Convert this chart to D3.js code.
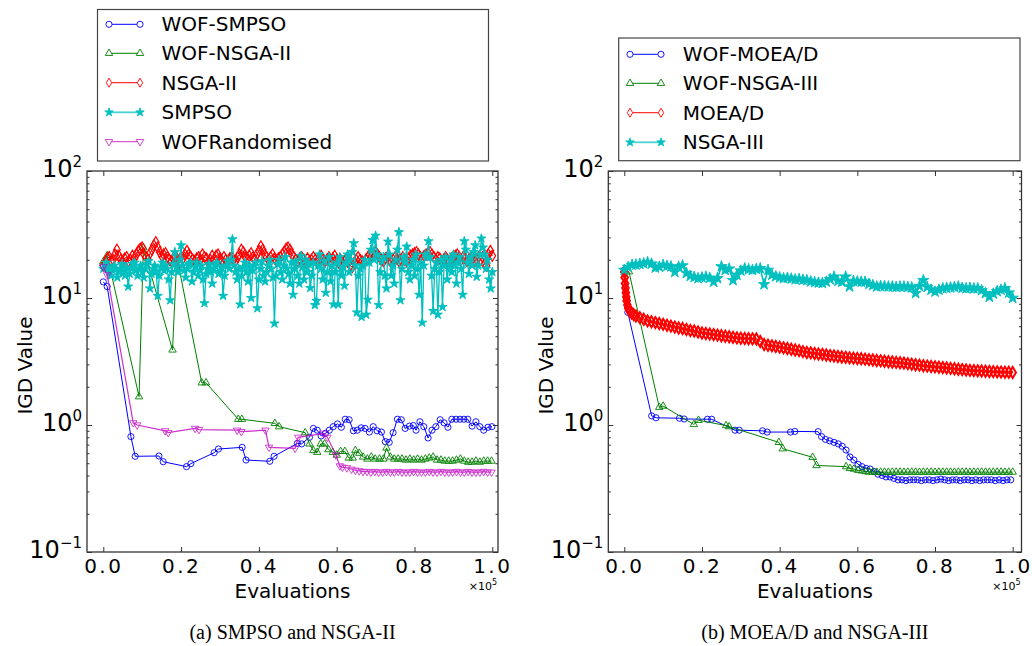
<!DOCTYPE html>
<html>
<head>
<meta charset="utf-8">
<script src="https://cdn.jsdelivr.net/npm/d3@7"></script>
<style>
body { margin: 0; background: #fff; }
svg text { font-family: "DejaVu Sans", sans-serif; fill: #000; }
.caption { font-family: "Liberation Serif", serif; font-size: 20px; }
</style>
</head>
<body>
<svg id="chart" width="1032" height="646"></svg>
<script>
// evaluations are kept in thousands, the axis shows them as x10^5

// (a) SMPSO and NSGA-II
var aWofSmpsoEvals = [0, 1, 7.1, 8.2, 14.3, 15.4, 21.4, 22.5, 28.5, 29.6, 35.7, 36.7, 42.8, 43.9, 49.9, 51,
    53, 54, 55, 56, 57.1, 58.1, 59.1, 60.2, 61.2, 62.2, 63.2, 64.3, 65.3, 66.3, 67.3, 68.4, 69.4, 70.4,
    71.5, 72.5, 73.5, 74.5, 75.6, 76.6, 77.6, 78.7, 79.7, 80.4, 81.4, 82.4, 83.5, 84.5, 85.5, 86.6, 87.6,
    88.6, 89.6, 90.7, 91.7, 92.7, 93.7, 94.8, 95.8, 96.8, 97.8, 98.9, 99.9];
var aWofSmpsoIgd = [13.4, 12.3, 0.81, 0.567, 0.57, 0.514, 0.47, 0.496, 0.605, 0.647, 0.667, 0.53, 0.518, 0.567, 0.717, 0.71,
    0.80, 0.94, 0.91, 0.82, 0.86, 0.91, 0.97, 1.02, 0.96, 1.11, 1.10, 0.90, 0.91, 0.95, 0.94, 0.88, 0.97, 0.90,
    0.88, 0.74, 0.73, 0.87, 1.11, 1.10, 0.94, 0.98, 0.99, 0.91, 1.06, 0.97, 0.79, 0.91, 0.97, 1.10, 1.04,
    0.96, 1.11, 1.11, 1.11, 1.11, 1.11, 0.98, 1.06, 0.97, 0.91, 0.96, 0.97];

var aWofNsga2Evals = [0, 1, 9.2, 10.3, 17.8, 18.9, 25.3, 26.4, 34.7, 35.6, 44.1, 45.2, 51.9, 53, 54, 55, 55.9,
    56.9, 57.9, 59, 60, 61, 62.1, 63.1, 64.1, 64.8, 65.8, 66.8, 67.9, 68.9, 69.9, 71, 72, 72.8, 73.8,
    74.8, 75.8, 76.8, 77.8, 78.8, 79.8, 80.8, 81.8, 82.8, 83.8, 84.8, 85.8, 86.8, 87.8, 88.8, 89.8,
    90.8, 91.8, 92.8, 93.8, 94.8, 95.8, 96.8, 97.8, 98.8, 99.8];
var aWofNsga2Igd = [19.3, 21.6, 1.67, 25, 3.9, 21.2, 2.15, 2.15, 1.11, 1.11, 1.03, 0.97, 0.87, 0.71, 0.63, 0.61, 0.71,
    0.71, 0.64, 0.61, 0.58, 0.62, 0.62, 0.55, 0.55, 0.63, 0.60, 0.56, 0.54, 0.56, 0.54, 0.54, 0.54, 0.66, 0.56,
    0.54, 0.54, 0.54, 0.53, 0.54, 0.53, 0.54, 0.53, 0.54, 0.55, 0.56, 0.53, 0.53, 0.52, 0.52, 0.52,
    0.53, 0.54, 0.52, 0.51, 0.51, 0.52, 0.51, 0.52, 0.52, 0.52];

// NSGA-II and SMPSO are logged on a regular grid of evaluations
var aNsga2Igd = [
    18, 19, 20.5, 21, 19.5, 20, 22, 24, 21.5, 20,
    19, 20.5, 21, 19.5, 20, 21.5, 20.5, 22, 23.5, 24.5,
    25, 22, 21, 20, 22.5, 24, 26, 27.5, 25, 23,
    21.5, 22, 22.5, 21, 20, 19.5, 20.5, 21, 20, 19,
    21, 20.5, 22, 23.5, 22, 21, 20, 19.5, 20.5, 21,
    20, 22, 21, 20.5, 19, 20, 21.5, 20, 21.5, 22,
    20.5, 19.5, 21, 20, 19, 20.5, 21, 20, 19.5, 21,
    22, 24, 23, 21, 20, 21.5, 22.5, 21, 20, 22,
    23.5, 25.5, 24, 22, 21, 20, 21, 22, 20.5, 19.5,
    20.5, 21, 22, 23, 24.5, 25, 24, 22, 21, 20,
    19.5, 20.5, 21, 20, 19, 20.5, 19.5, 20, 21, 20,
    19, 20.5, 21.5, 20, 19.5, 20, 21, 19, 20.5, 21.5,
    20, 19, 20, 18.5, 19.5, 20.5, 19, 18, 17.5, 19,
    20, 21, 20, 19.5, 19, 20, 21, 22, 21.5, 22.5,
    23, 22, 21, 20, 19.5, 20.5, 21, 20, 19, 20,
    21, 20.5, 19.5, 20, 21, 20, 19.5, 20.5, 21.5, 22,
    22.5, 23, 22, 21, 20.5, 21.5, 22, 22.5, 23, 22,
    21, 20, 21, 20.5, 19.5, 20, 21, 20, 19.5, 20.5,
    21, 21.5, 22, 21, 20, 21, 20.5, 19.5, 20, 21,
    20.5, 19.5, 20, 21, 20, 21, 18.5, 18, 22, 23.5,
    21.5];
var aNsga2Evals = d3.range(aNsga2Igd.length).map(function(i) { return i * 100 / (aNsga2Igd.length - 1); });

var aSmpsoIgd = [
    17, 18, 19, 17.5, 16, 15, 16.5, 18, 17, 14.5,
    16, 17, 18.5, 16, 15, 17.5, 12.3, 15.5, 17, 18.5,
    19, 16.5, 15, 17, 18, 16, 14.5, 17, 18.5, 19.5,
    11.9, 15.5, 17, 18, 16, 10.4, 15, 17.5, 19, 16.5,
    18, 17, 14, 9.6, 16, 18.5, 23, 17.5, 16, 20,
    26, 18, 16.5, 14.5, 17, 18.5, 19, 13.5, 16, 17.5,
    19, 15, 16.5, 18, 14, 9.1, 15.5, 17, 18.5, 16,
    13, 17, 18, 19, 15.5, 16, 17.5, 10.4, 15, 18,
    19.5, 17, 20, 29, 18, 16, 14, 17, 8.9, 15,
    17.5, 19, 16, 13.5, 18, 10, 16.5, 18, 19, 8.3,
    14, 17, 19.5, 15, 13.5, 16, 18, 20, 17, 14.5,
    6.3, 15, 18.5, 20, 16, 14, 18, 21, 17, 15.5,
    13, 19, 10.6, 17, 19.5, 15, 13, 21.5, 17.5, 14,
    20, 16, 18.5, 12, 15, 19, 8.8, 9.5, 18, 22,
    17, 14, 19.5, 11, 16, 21, 13.5, 18, 8.9, 16,
    19, 8.9, 21, 15, 17.5, 12.5, 19, 22, 16, 20,
    23, 27, 18, 7.7, 15, 17, 7.1, 18, 20, 7.4,
    9.7, 19, 24, 28.6, 20, 31, 22, 8.8, 16, 19.5,
    21, 15, 11.9, 27.8, 22, 15, 18, 13, 20, 24,
    33, 9.6, 17, 21, 19, 25.4, 16, 14, 18, 20,
    15, 22, 17, 10.6, 19, 6.4, 18, 22, 21, 28,
    21, 15, 7.9, 17, 19, 7.4, 16, 20, 8.5, 18,
    21, 14, 17.5, 20, 16, 22, 18, 13, 19, 21,
    17, 10.6, 28, 24, 19, 15.5, 21, 18, 23, 26,
    14.7, 18, 22, 29.4, 25, 22, 17, 20, 14, 11.9,
    16];
var aSmpsoEvals = d3.range(aSmpsoIgd.length).map(function(i) { return i * 100 / (aSmpsoIgd.length - 1); });

var aWofRandEvals = [0, 1, 7.7, 8.7, 15.9, 16.7, 23.6, 24.6, 34.4, 35.5, 41.7, 42.6, 49.3, 50.1, 56.6, 57.6,
    59.8, 60.8, 61.5, 62.6, 63.8, 64.8, 65.8, 66.8, 67.8, 68.8, 69.8, 70.8, 71.8, 72.8, 73.8, 74.8, 75.8,
    76.8, 77.8, 78.8, 79.8, 80.8, 81.8, 82.8, 83.8, 84.8, 85.8, 86.8, 87.8, 88.8, 89.8, 90.8, 91.8, 92.8,
    93.8, 94.8, 95.8, 96.8, 97.8, 98.8, 99.8];
var aWofRandIgd = [17.6, 15.2, 1.04, 1.0, 0.90, 0.87, 0.94, 0.92, 0.91, 0.886, 0.91, 0.667, 0.655, 0.80, 0.86, 0.80,
    0.58, 0.476, 0.465, 0.46, 0.448, 0.44, 0.435, 0.43, 0.43, 0.425, 0.43, 0.425, 0.425, 0.43, 0.425,
    0.425, 0.43, 0.425, 0.425, 0.425, 0.43, 0.425, 0.425, 0.425, 0.43, 0.425, 0.425, 0.43, 0.425, 0.425,
    0.425, 0.43, 0.425, 0.425, 0.43, 0.425, 0.425, 0.425, 0.43, 0.425, 0.425];

// (b) MOEA/D and NSGA-III
var bWofMoeadEvals = [0, 0.9, 7.05, 8.16, 14.2, 15.4, 21.4, 22.5, 28.5, 29.6, 35.6, 36.8, 42.8, 43.9, 49.9,
    50.8, 51.8, 52.9, 54, 55.1, 56.1, 57.1, 58.1, 59.1, 60.2, 61.2, 62.3, 63.3, 64.3, 65.3, 66.4, 67.4,
    68.4, 69.4, 70.5, 71.5, 72.5, 73.5, 74.5, 75.5, 76.5, 77.5, 78.5, 79.5, 80.5, 81.5, 82.5, 83.5, 84.5,
    85.5, 86.5, 87.5, 88.5, 89.5, 90.5, 91.5, 92.5, 93.5, 94.5, 95.5, 96.5, 97.5, 98.5, 99.5];
var bWofMoeadIgd = [16.6, 7.7, 1.18, 1.14, 1.13, 1.115, 1.11, 1.11, 0.91, 0.91, 0.90, 0.88, 0.88, 0.89, 0.886,
    0.81, 0.77, 0.75, 0.73, 0.71, 0.68, 0.635, 0.56, 0.53, 0.49, 0.47, 0.455, 0.45, 0.43, 0.41, 0.40, 0.39,
    0.39, 0.38, 0.37, 0.37, 0.365, 0.37, 0.37, 0.37, 0.365, 0.37, 0.37, 0.365, 0.37, 0.375, 0.37, 0.365, 0.37,
    0.37, 0.365, 0.37, 0.37, 0.365, 0.37, 0.365, 0.37, 0.37, 0.37, 0.365, 0.37, 0.365, 0.37, 0.37];

var bWofNsga3Evals = [0, 1.2, 9, 10, 17.9, 19.1, 26.2, 27, 39.8, 40.8, 48.5, 49.5, 57.1, 58.1, 59.1, 60.2, 61.2,
    62.2, 63, 64, 65, 66, 67, 68, 69, 70, 71, 72, 73, 74, 75, 76, 77, 78, 79, 80, 81, 82, 83, 84, 85, 86,
    87, 88, 89, 90, 91, 92, 93, 94, 95, 96, 97, 98, 99, 100];
var bWofNsga3Igd = [16.5, 16.1, 1.38, 1.41, 1.01, 1.09, 0.99, 0.97, 0.73, 0.65, 0.557, 0.48, 0.47, 0.455, 0.45, 0.44, 0.435,
    0.43, 0.426, 0.426, 0.425, 0.426, 0.426, 0.425, 0.426, 0.426, 0.426, 0.425, 0.426, 0.426, 0.426, 0.425,
    0.426, 0.426, 0.426, 0.425, 0.426, 0.426, 0.426, 0.426, 0.425, 0.426, 0.426, 0.426, 0.425, 0.426, 0.426,
    0.426, 0.426, 0.425, 0.426, 0.426, 0.426, 0.425, 0.426, 0.426];

var bMoeadEvals = [0, 0.1, 0.2, 0.3, 0.4, 0.5, 0.6, 0.8, 1, 1.4, 1.9, 2.4,
    3, 4, 5, 6, 7, 8, 9, 10, 11, 12, 13, 14, 15, 16, 17, 18, 19, 20, 21, 22, 23, 24, 25, 26, 27, 28, 29,
    30, 31, 32, 33, 34, 35, 36, 37, 38, 39, 40, 41, 42, 43, 44, 45, 46, 47, 48, 49, 50, 51, 52, 53, 54, 55,
    56, 57, 58, 59, 60, 61, 62, 63, 64, 65, 66, 67, 68, 69, 70, 71, 72, 73, 74, 75, 76, 77, 78, 79, 80, 81,
    82, 83, 84, 85, 86, 87, 88, 89, 90, 91, 92, 93, 94, 95, 96, 97, 98, 99, 100];
var bMoeadIgd = [16, 14.5, 13, 12, 11, 10.2, 9.5, 8.8, 8.3, 7.9, 7.6, 7.4,
    7.2, 7.0, 6.8, 6.6, 6.5, 6.4, 6.3, 6.2, 6.1, 6.0, 5.9, 5.8, 5.75, 5.65, 5.55, 5.5, 5.4, 5.3, 5.25, 5.2,
    5.15, 5.1, 5.05, 5.0, 4.95, 4.9, 4.85, 4.82, 4.8, 4.78, 4.77, 4.75, 4.55, 4.3, 4.25, 4.2, 4.15, 4.1,
    4.05, 4.0, 3.95, 3.9, 3.85, 3.78, 3.72, 3.7, 3.66, 3.62, 3.6, 3.56, 3.52, 3.49, 3.46, 3.43, 3.41, 3.38,
    3.36, 3.34, 3.32, 3.3, 3.27, 3.25, 3.22, 3.2, 3.18, 3.15, 3.13, 3.11, 3.09, 3.07, 3.04, 3.01, 2.98, 2.96,
    2.93, 2.91, 2.89, 2.87, 2.85, 2.83, 2.81, 2.79, 2.77, 2.75, 2.73, 2.71, 2.69, 2.68, 2.67, 2.66, 2.65,
    2.64, 2.63, 2.62, 2.61, 2.6, 2.6, 2.59];

var bNsga3Igd = [
    16.6, 17.5, 18.2, 18.3, 18.5, 18.7, 19.1, 18.6, 17.3, 17.6,
    18.2, 17.9, 17.7, 16.0, 17.6, 18.0, 15.7, 14.9, 14.6, 14.3,
    14.5, 14.7, 14.4, 13.4, 14.3, 17.7, 16.6, 17.0, 13.8, 15.2,
    16.4, 17.1, 16.8, 16.6, 16.9, 17.1, 12.8, 16.6, 15.2, 14.8,
    14.5, 14.3, 14.4, 14.2, 14.0, 14.1, 13.9, 13.8, 13.5, 13.3,
    13.2, 13.1, 13.4, 14.0, 14.7, 13.6, 13.4, 14.7, 12.3, 13.6,
    13.5, 13.4, 13.4, 12.9, 12.6, 12.3, 12.4, 12.4, 12.3, 12.3,
    12.2, 12.3, 12.3, 12.2, 12.1, 10.9, 12.4, 13.8, 12.2, 11.6,
    11.2, 11.6, 11.9, 12.0, 12.1, 12.2, 12.3, 12.0, 11.9, 12.0,
    11.9, 11.9, 11.5, 10.9, 10.2, 10.8, 11.3, 11.6, 11.9, 11.0,
    10.0];
var bNsga3Evals = d3.range(bNsga3Igd.length);

var xTicks = [0, 20, 40, 60, 80, 100];
var yMajor = [0.1, 1, 10, 100];
var yExponents = ["\u22121", "0", "1", "2"];
var yMinor = [0.2, 0.3, 0.4, 0.5, 0.6, 0.7, 0.8, 0.9, 2, 3, 4, 5, 6, 7, 8, 9, 20, 30, 40, 50, 60, 70, 80, 90];

// thin diamond marker like matplotlib "d"
var thinDiamond = {
    draw: function(context, size) {
        var h = size / 2, w = size * 0.3;
        context.moveTo(0, -h);
        context.lineTo(w, 0);
        context.lineTo(0, h);
        context.lineTo(-w, 0);
        context.closePath();
    }
};

var markerPaths = {
    circle: d3.symbol().type(d3.symbolCircle).size(30)(),
    triangle: d3.symbol().type(d3.symbolTriangle).size(24)(),
    triangleDown: d3.symbol().type(d3.symbolTriangle).size(24)(),
    diamond: d3.symbol().type(thinDiamond).size(9)(),
    bigDiamond: d3.symbol().type(thinDiamond).size(11)(),
    star: d3.symbol().type(d3.symbolStar).size(22)(),
    midStar: d3.symbol().type(d3.symbolStar).size(26)(),
    bigStar: d3.symbol().type(d3.symbolStar).size(40)()
};

function markerTransform(m, px, py) {
    return "translate(" + px + "," + py + ")" + (m === "triangleDown" ? " rotate(180)" : "");
}

var svg = d3.select("#chart");

var panels = [
    {
        id: "a", left: 87, right: 498, top: 171, bottom: 552,
        xDomain: [-4.19, 101.47],
        caption: "(a) SMPSO and NSGA-II",
        legend: {x: 97.5, y: 9.5, w: 391, h: 151.5, lineX: 109, lineW: 31, textX: 161.5, rows: [24.3, 53.3, 82.7, 112.3, 141.7]},
        series: [
            {name: "WOF-SMPSO", evals: aWofSmpsoEvals, igd: aWofSmpsoIgd, color: "#0000ff", marker: "circle", fill: "none", width: 1, opacity: 1},
            {name: "WOF-NSGA-II", evals: aWofNsga2Evals, igd: aWofNsga2Igd, color: "#008000", marker: "triangle", fill: "none", width: 1, opacity: 1},
            {name: "NSGA-II", evals: aNsga2Evals, igd: aNsga2Igd, color: "#ff0000", marker: "diamond", plotMarker: "bigDiamond", fill: "none", markerWidth: 1.2, width: 1, opacity: 1},
            {name: "SMPSO", evals: aSmpsoEvals, igd: aSmpsoIgd, color: "#00bfbf", marker: "star", plotMarker: "midStar", fill: "#00bfbf", width: 1.3, opacity: 1},
            {name: "WOFRandomised", evals: aWofRandEvals, igd: aWofRandIgd, color: "#bf00bf", marker: "triangleDown", fill: "none", width: 1.2, opacity: 0.8}
        ]
    },
    {
        id: "b", left: 608.3, right: 1021.5, top: 171, bottom: 552,
        xDomain: [-4.12, 102.27],
        caption: "(b) MOEA/D and NSGA-III",
        legend: {x: 618.7, y: 38, w: 401.3, h: 122.7, lineX: 630, lineW: 31, textX: 682.7, rows: [54.3, 83.3, 112.7, 142.3]},
        series: [
            {name: "WOF-MOEA/D", evals: bWofMoeadEvals, igd: bWofMoeadIgd, color: "#0000ff", marker: "circle", fill: "none", width: 1, opacity: 1},
            {name: "WOF-NSGA-III", evals: bWofNsga3Evals, igd: bWofNsga3Igd, color: "#008000", marker: "triangle", fill: "none", width: 1, opacity: 1},
            {name: "MOEA/D", evals: bMoeadEvals, igd: bMoeadIgd, color: "#ff0000", marker: "diamond", plotMarker: "bigDiamond", fill: "none", markerWidth: 2, width: 1, opacity: 1},
            {name: "NSGA-III", evals: bNsga3Evals, igd: bNsga3Igd, color: "#00bfbf", marker: "star", plotMarker: "bigStar", fill: "#00bfbf", width: 1.6, opacity: 1}
        ]
    }
];

panels.forEach(function(p) {
    // set scales
    var x = d3.scaleLinear().domain(p.xDomain).range([p.left, p.right]);
    var y = d3.scaleLog().domain([0.1, 100]).range([p.bottom, p.top]);

    svg.append("clipPath")
        .attr("id", "clip-" + p.id)
        .append("rect")
        .attr("x", p.left)
        .attr("y", p.top)
        .attr("width", p.right - p.left)
        .attr("height", p.bottom - p.top);

    var plot = svg.append("g").attr("clip-path", "url(#clip-" + p.id + ")");

    var line = d3.line()
        .x(function(d) { return x(d[0]); })
        .y(function(d) { return y(d[1]); });

    p.series.forEach(function(s) {
        var pts = d3.zip(s.evals, s.igd);
        var g = plot.append("g").attr("opacity", s.opacity);
        var m = s.plotMarker || s.marker;

        g.append("path")
            .datum(pts)
            .attr("d", line)
            .attr("fill", "none")
            .attr("stroke", s.color)
            .attr("stroke-width", s.width);

        g.selectAll("path.mk")
            .data(pts)
            .enter()
            .append("path")
            .attr("class", "mk")
            .attr("d", markerPaths[m])
            .attr("transform", function(d) { return markerTransform(s.marker, x(d[0]), y(d[1])); })
            .attr("fill", s.fill)
            .attr("stroke", s.color)
            .attr("stroke-width", s.markerWidth || 0.9);
    });

    // axes, ticks pointing inwards on all sides
    var xAxisBottom = svg.append("g")
        .attr("transform", "translate(0," + p.bottom + ")")
        .call(d3.axisBottom(x).tickValues(xTicks).tickSize(-5).tickPadding(7)
            .tickFormat(function(d) { return (d / 100).toFixed(1); }));
    xAxisBottom.selectAll("text")
        .attr("font-size", 20)
        .attr("letter-spacing", 2.5)
        .style("font-family", "DejaVu Sans");

    var xAxisTop = svg.append("g")
        .attr("transform", "translate(0," + p.top + ")")
        .call(d3.axisTop(x).tickValues(xTicks).tickSize(-5).tickFormat(""));

    var yAxisLeft = svg.append("g")
        .attr("transform", "translate(" + p.left + ",0)")
        .call(d3.axisLeft(y).tickValues(yMajor).tickSize(-5).tickFormat(""));
    var yAxisLeftMinor = svg.append("g")
        .attr("transform", "translate(" + p.left + ",0)")
        .call(d3.axisLeft(y).tickValues(yMinor).tickSize(-2.5).tickFormat(""));
    var yAxisRight = svg.append("g")
        .attr("transform", "translate(" + p.right + ",0)")
        .call(d3.axisRight(y).tickValues(yMajor).tickSize(-5).tickFormat(""));
    var yAxisRightMinor = svg.append("g")
        .attr("transform", "translate(" + p.right + ",0)")
        .call(d3.axisRight(y).tickValues(yMinor).tickSize(-2.5).tickFormat(""));

    [xAxisBottom, xAxisTop, yAxisLeft, yAxisLeftMinor, yAxisRight, yAxisRightMinor].forEach(function(a) {
        a.select(".domain").remove();
        a.selectAll("line").attr("stroke", "#333");
    });

    svg.append("rect")
        .attr("x", p.left)
        .attr("y", p.top)
        .attr("width", p.right - p.left)
        .attr("height", p.bottom - p.top)
        .attr("fill", "none")
        .attr("stroke", "#333")
        .attr("stroke-width", 1.3);

    // y tick labels as 10^n
    yMajor.forEach(function(v, i) {
        var t = svg.append("text")
            .attr("x", p.left - 5)
            .attr("y", y(v) + 6)
            .attr("text-anchor", "end");
        t.append("tspan").attr("font-size", 24).text("10");
        t.append("tspan").attr("font-size", 15).attr("dy", -10).text(yExponents[i]);
    });

    // x10^5 offset text
    var off = svg.append("text")
        .attr("x", p.right - 1)
        .attr("y", 590)
        .attr("text-anchor", "end");
    off.append("tspan").attr("font-size", 11).text("\u00d710");
    off.append("tspan").attr("font-size", 8).attr("dy", -5).text("5");

    svg.append("text")
        .attr("x", (p.left + p.right) / 2)
        .attr("y", 598)
        .attr("text-anchor", "middle")
        .attr("font-size", 20)
        .text("Evaluations");

    svg.append("text")
        .attr("transform", "translate(" + (p.left - 55) + "," + ((p.top + p.bottom) / 2 + 4) + ") rotate(-90)")
        .attr("text-anchor", "middle")
        .attr("font-size", 20)
        .text("IGD Value");

    svg.append("text")
        .attr("class", "caption")
        .attr("x", (p.left + p.right) / 2)
        .attr("y", 639)
        .attr("text-anchor", "middle")
        .text(p.caption);

    // legend
    var lg = p.legend;
    svg.append("rect")
        .attr("x", lg.x)
        .attr("y", lg.y)
        .attr("width", lg.w)
        .attr("height", lg.h)
        .attr("fill", "#fff")
        .attr("stroke", "#444")
        .attr("stroke-width", 1.2);

    p.series.forEach(function(s, i) {
        var ry = lg.rows[i];
        var item = svg.append("g").attr("opacity", s.opacity);
        item.append("line")
            .attr("x1", lg.lineX)
            .attr("x2", lg.lineX + lg.lineW)
            .attr("y1", ry)
            .attr("y2", ry)
            .attr("stroke", s.color)
            .attr("stroke-width", s.fill === "none" ? 1 : 1.8)
            .attr("stroke-opacity", s.fill === "none" ? 1 : 0.7);
        [lg.lineX, lg.lineX + lg.lineW].forEach(function(mx) {
            item.append("path")
                .attr("d", markerPaths[s.marker])
                .attr("transform", markerTransform(s.marker, mx, ry))
                .attr("fill", s.fill === "none" ? "#fff" : s.fill)
                .attr("stroke", s.color)
                .attr("stroke-width", 0.9);
        });
        svg.append("text")
            .attr("x", lg.textX)
            .attr("y", ry + 7)
            .attr("font-size", 20)
            .text(s.name);
    });
});
</script>
</body>
</html>
